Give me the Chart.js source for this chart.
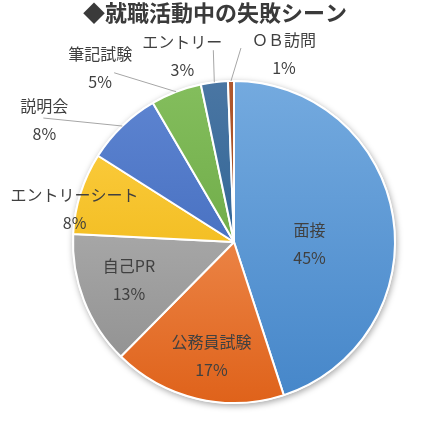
<!DOCTYPE html>
<html lang="ja">
<head>
<meta charset="utf-8">
<title>就職活動中の失敗シーン</title>
<script src="https://cdn.jsdelivr.net/npm/chart.js@4/dist/chart.umd.min.js"></script>
<style>
  html, body { margin: 0; padding: 0; background: #fff; }
  #wrap { width: 430px; height: 421px; position: relative; }
</style>
</head>
<body>
<div id="wrap"><canvas id="pie"></canvas></div>
<script>
// 就職活動中の失敗シーン - shares (%)
const chartTitle = '◆就職活動中の失敗シーン';
const categories = ['面接', '公務員試験', '自己PR', 'エントリーシート', '説明会', '筆記試験', 'エントリー', 'ＯＢ訪問'];
const shares = [45.0, 17.4, 13.4, 8.2, 7.6, 5.1, 2.7, 0.6];

// top / bottom colours of the vertical gradient
const lightColors = ['#74AADF', '#F7A46F', '#BEBEBE', '#FFD24A', '#5F86D2', '#84BE5D', '#4A76A3', '#B0582E'];
const darkColors  = ['#4586C9', '#DF621A', '#8C8C8C', '#E8AC00', '#345EB3', '#5E9C37', '#1D578A', '#8E3F14'];

const FONT = '"Noto Sans CJK JP", "Noto Sans", sans-serif';
const TEXT_COLOR = '#404040';
const LINE_COLOR = '#A6A6A6';

// where each label goes: inside ones are shifted from the slice centre,
// outside ones from the point on the rim (with a leader line back to it)
const labelPlacement = [
    { inside: true, dx: -4, dy: 15 },
    { inside: true, dx: -4, dy: 36 },
    { inside: true, dx: -30, dy: 9 },
    { inside: false, dx: -6, dy: 16 },
    { inside: false, dx: -78, dy: -6, line: [-1, -2] },
    { inside: false, dx: -76, dy: -24, line: [14, 5] },
    { inside: false, dx: -32, dy: -26, line: [31, -6] },
    { inside: false, dx: 53, dy: -27, line: [-43, -6] }
];

function gradientFor(context) {
    const chart = context.chart;
    const area = chart.chartArea;
    const i = context.dataIndex;
    if (!area) return lightColors[i];
    const g = chart.ctx.createLinearGradient(0, area.top, 0, area.bottom);
    g.addColorStop(0, lightColors[i]);
    g.addColorStop(1, darkColors[i]);
    return g;
}

const pieExtras = {
    id: 'pieExtras',
    beforeDatasetsDraw(chart) {
        // soft shadow under the whole pie
        const arc = chart.getDatasetMeta(0).data[0];
        if (!arc) return;
        const ctx = chart.ctx;
        ctx.save();
        ctx.shadowColor = 'rgba(0,0,0,0.35)';
        ctx.shadowBlur = 6;
        ctx.shadowOffsetX = 1;
        ctx.shadowOffsetY = 2;
        ctx.fillStyle = '#fff';
        ctx.beginPath();
        ctx.arc(arc.x, arc.y, arc.outerRadius + 1, 0, Math.PI * 2);
        ctx.fill();
        ctx.restore();
    },
    afterDatasetsDraw(chart) {
        const ctx = chart.ctx;
        const total = shares.reduce((a, b) => a + b, 0);
        const arcs = chart.getDatasetMeta(0).data;
        ctx.save();
        ctx.font = '16px ' + FONT;
        ctx.textAlign = 'center';
        ctx.textBaseline = 'middle';
        arcs.forEach((arc, i) => {
            const p = arc.getProps(['x', 'y', 'startAngle', 'endAngle', 'outerRadius'], true);
            const mid = (p.startAngle + p.endAngle) / 2;
            const place = labelPlacement[i];
            const r = place.inside ? p.outerRadius / 2 : p.outerRadius;
            const ax = p.x + Math.cos(mid) * r;
            const ay = p.y + Math.sin(mid) * r;
            const cx = ax + place.dx;
            const cy = ay + place.dy;
            if (place.line) {
                ctx.strokeStyle = LINE_COLOR;
                ctx.lineWidth = 1;
                ctx.beginPath();
                ctx.moveTo(cx + place.line[0], cy + place.line[1]);
                ctx.lineTo(ax, ay);
                ctx.stroke();
            }
            const pct = Math.round(shares[i] / total * 100) + '%';
            ctx.fillStyle = TEXT_COLOR;
            ctx.fillText(categories[i], cx, cy - 14);
            ctx.fillText(pct, cx, cy + 14);
        });
        ctx.restore();
    },
    afterDraw(chart) {
        const ctx = chart.ctx;
        ctx.save();
        ctx.font = 'bold 22px ' + FONT;
        ctx.fillStyle = '#3A3A3A';
        ctx.textAlign = 'center';
        ctx.textBaseline = 'middle';
        ctx.fillText(chartTitle, 215, 13);
        ctx.restore();
    }
};

new Chart(document.getElementById('pie'), {
    type: 'pie',
    data: {
        labels: categories,
        datasets: [{
            data: shares,
            backgroundColor: gradientFor,
            borderColor: '#ffffff',
            borderWidth: 2
        }]
    },
    options: {
        responsive: true,
        maintainAspectRatio: false,
        animation: false,
        layout: { padding: { top: 80, bottom: 17, left: 71, right: 33 } },
        plugins: {
            legend: { display: false },
            tooltip: { enabled: false },
            title: { display: false }
        }
    },
    plugins: [pieExtras]
});
</script>
</body>
</html>
